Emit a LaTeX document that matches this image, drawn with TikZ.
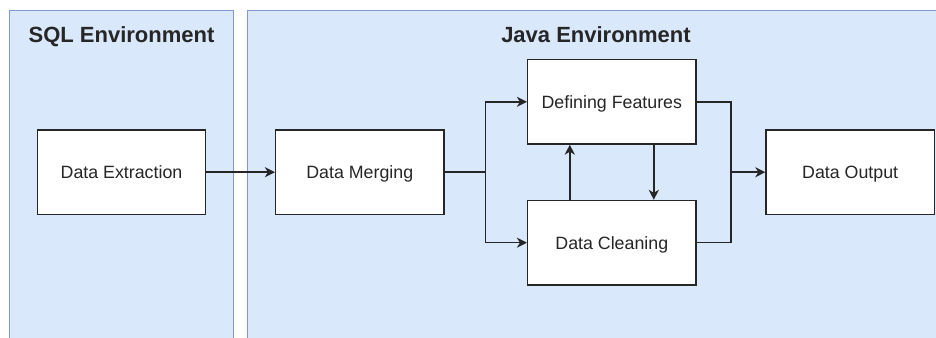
\documentclass[tikz,border=0pt]{standalone}
\usepackage{fontspec}
\setmainfont{Liberation Sans}
\usetikzlibrary{arrows.meta,positioning}
\definecolor{envfill}{HTML}{DAE8FC}
\definecolor{envline}{HTML}{7D9CCB}
\definecolor{ink}{HTML}{262626}
\tikzset{
  envbox/.style={draw=envline,fill=envfill,line width=1.4pt},
  envtitle/.style={font=\fontsize{22}{26}\selectfont\bfseries,text=ink,inner sep=0pt,text height=15.8pt,text depth=0pt},
  procbox/.style={draw=ink,fill=white,line width=1.4pt,minimum width=168.4pt,minimum height=84.3pt,inner sep=0pt,text height=12.8pt,text depth=0pt,font=\fontsize{17.8}{21}\selectfont,text=ink},
  link/.style={draw=ink,line width=1.5pt},
  arr/.style={link,-{Stealth[length=10pt,width=10pt,inset=3pt]}}
}
\begin{document}
\begin{tikzpicture}[x=1pt,y=-1pt]
\useasboundingbox (0,0) rectangle (936,337);
\clip (0,0) rectangle (936,337);
\fill[white] (0,0) rectangle (936,337);
\path[envbox] (9.5,10.5) rectangle (233.3,350);
\path[envbox] (247.7,10.5) rectangle (944,350);
\node[envtitle] (sqlt) at (121.5,35) {SQL Environment};
\node[envtitle] (javat) at (596,35) {Java Environment};
\node[procbox] (de) at (121.5,172.2) {Data Extraction};
\node[procbox] (dm) at (359.8,172.2) {Data Merging};
\node[procbox] (df) at (611.8,101.8) {Defining Features};
\node[procbox] (dc) at (611.8,242.7) {Data Cleaning};
\node[procbox] (do) at (850.2,172.2) {Data Output};
\coordinate (split) at (485.7,172.2);
\coordinate (join) at (731,172.2);
\draw[arr] (de.east) -- (dm.west);
\draw[link] (dm.east) -- (split);
\draw[arr] (split) |- (df.west);
\draw[arr] (split) |- (dc.west);
\draw[arr] ([xshift=-42pt]dc.north) -- ([xshift=-42pt]df.south);
\draw[arr] ([xshift=42pt]df.south) -- ([xshift=42pt]dc.north);
\draw[link] (df.east) -| (join);
\draw[link] (dc.east) -| (join);
\draw[arr] (join) -- (do.west);
\end{tikzpicture}
\end{document}
